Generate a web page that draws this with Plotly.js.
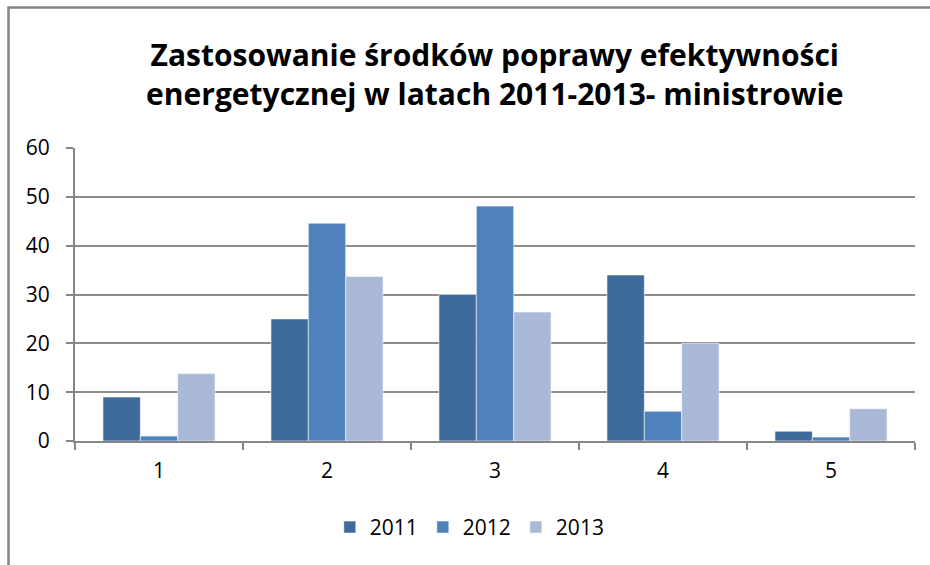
<!DOCTYPE html>
<html>
<head>
<meta charset="utf-8">
<script src="https://cdn.plot.ly/plotly-3.0.1.min.js"></script>
<style>html,body{margin:0;padding:0;background:#fff;}#chart{width:930px;height:565px;}</style>
</head>
<body>
<div id="chart"></div>
<script>
const categories = ["1", "2", "3", "4", "5"];
const seriesNames = ["2011", "2012", "2013"];
const values2011 = [9, 25, 30, 34, 2];
const values2012 = [1, 44.6, 48.1, 6.1, 0.8];
const values2013 = [13.8, 33.7, 26.4, 20, 6.6];
const seriesColors = ["#3F6A9C", "#4F81BD", "#AAB9D7"];
const titleText = "Zastosowanie środków poprawy efektywności<br>energetycznej w latach 2011-2013- ministrowie";

const allValues = [values2011, values2012, values2013];
const traces = allValues.map((v, i) => ({
  type: "bar",
  x: categories,
  y: v,
  name: seriesNames[i],
  marker: {color: seriesColors[i], line: {color: "rgba(255,255,255,0.55)", width: 1}},
  hoverinfo: "skip"
}));

const layout = {
  width: 930, height: 565,
  margin: {l: 75, r: 15, t: 148, b: 124},
  paper_bgcolor: "#fff", plot_bgcolor: "#fff",
  font: {family: "'Open Sans', 'Liberation Sans', sans-serif", color: "#000"},
  title: {text: titleText, font: {size: 30, family: "'Open Sans'", weight: 700, color: "#000"},
          x: 0.532, xanchor: "center", y: 0.883, yanchor: "middle"},
  barmode: "group", bargap: 0.333, bargroupgap: 0,
  showlegend: true,
  legend: {orientation: "h", x: 0.47, xanchor: "center", y: -0.295, yanchor: "middle",
           font: {size: 21}, itemwidth: 30, traceorder: "normal"},
  xaxis: {type: "category", showline: true, linecolor: "#868686", linewidth: 2,
          ticks: "outside", tickson: "boundaries", ticklen: 7, tickcolor: "#868686", tickwidth: 2,
          tickfont: {size: 21}, ticklabelstandoff: 10, showgrid: false, zeroline: false, fixedrange: true},
  yaxis: {range: [0, 60], dtick: 10, showline: true, linecolor: "#868686", linewidth: 2,
          ticks: "outside", ticklen: 7, tickcolor: "#868686", tickwidth: 2,
          tickfont: {size: 21}, ticklabelstandoff: 12, showgrid: true, gridcolor: "#8C8C8C", gridwidth: 2,
          zeroline: false, fixedrange: true},
  shapes: [{type: "rect", xref: "paper", yref: "paper",
            x0: (8.5 - 75) / 840, x1: (940 - 75) / 840,
            y0: -(575 - 441) / 293, y1: 1 + (148 - 7.5) / 293,
            line: {color: "#868686", width: 2.5}, fillcolor: "rgba(0,0,0,0)", layer: "below"}]
};

Plotly.newPlot("chart", traces, layout, {displayModeBar: false, staticPlot: true});
</script>
</body>
</html>
